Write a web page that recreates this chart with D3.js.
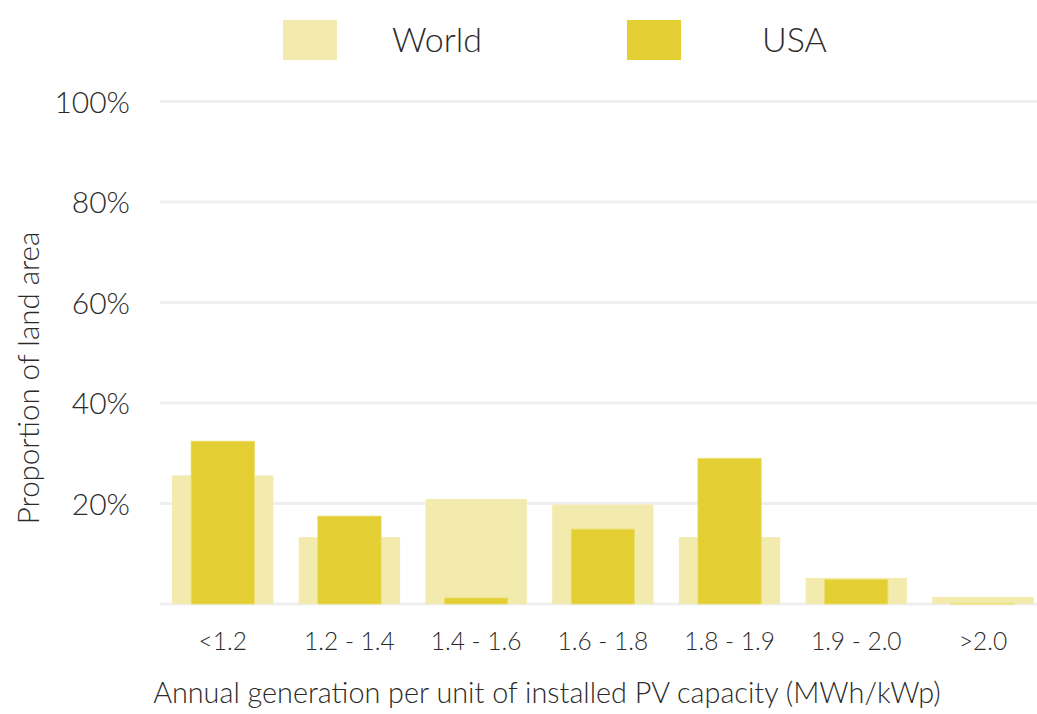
<!DOCTYPE html>
<html><head><meta charset="utf-8">
<script src="https://cdn.jsdelivr.net/npm/d3@7"></script>
<style>
body{margin:0;background:#fff;}
svg{display:block;}
text{font-family:Lato,"Open Sans",sans-serif;font-weight:300;fill:#2b2b2b;}
</style></head>
<body><svg id="c" width="1037" height="714"></svg>
<script>
const categories = ["<1.2","1.2 - 1.4","1.4 - 1.6","1.6 - 1.8","1.8 - 1.9","1.9 - 2.0",">2.0"];
const seriesNames = ["World","USA"];
const worldValues = [25.6, 13.3, 20.9, 19.8, 13.3, 5.2, 1.4];
const usaValues = [32.4, 17.5, 1.2, 14.9, 29.0, 4.9, 0.15];
const yTicks = [0, 20, 40, 60, 80, 100];
const colors = {World:"#F3EBAE", USA:"#E3CF33"};

const svg = d3.select("#c");
const x = d3.scaleBand().domain(categories).range([159.4, 1046.3]).padding(0);
const y = d3.scaleLinear().domain([0,100]).range([604,101.5]);

// gridlines
svg.append("g").selectAll("line").data(yTicks).join("line")
  .attr("x1",160).attr("x2",1046)
  .attr("y1",d=>y(d)).attr("y2",d=>y(d))
  .attr("stroke","#EFEFEF").attr("stroke-width",3);

// y tick labels
svg.append("g").selectAll("text").data(yTicks.filter(d=>d>0)).join("text")
  .attr("x",130).attr("y",d=>y(d)+11)
  .attr("text-anchor","end").attr("font-size",30)
  .text(d=>d+"%");

const step = x.bandwidth();
// world bars
svg.append("g").selectAll("rect").data(categories).join("rect")
  .attr("x",(d)=>x(d)+step*0.1).attr("width",step*0.8)
  .attr("y",(d,i)=>y(worldValues[i])).attr("height",(d,i)=>y(0)-y(worldValues[i]))
  .attr("fill",colors.World);
// usa bars
svg.append("g").selectAll("rect").data(categories).join("rect")
  .attr("x",(d)=>x(d)+step*0.25).attr("width",step*0.5)
  .attr("y",(d,i)=>y(usaValues[i])).attr("height",(d,i)=>y(0)-y(usaValues[i]))
  .attr("fill",colors.USA).attr("stroke","#EDDF6E").attr("stroke-width",0.8);

// x tick labels
svg.append("g").selectAll("text").data(categories).join("text")
  .attr("x",d=>x(d)+step/2).attr("y",650)
  .attr("text-anchor","middle").attr("font-size",24.5)
  .text(d=>d);

// axis titles
svg.append("text").attr("x",547).attr("y",703).attr("text-anchor","middle")
  .attr("font-size",28.8).text("Annual generation per unit of installed PV capacity (MWh/kWp)");
svg.append("text").attr("transform","translate(39,378) rotate(-90)").attr("text-anchor","middle")
  .attr("font-size",29.5).text("Proportion of land area");

// legend
const legendX = [283, 627];
const legendTextX = [392, 762];
const lg = svg.append("g");
seriesNames.forEach((s,i)=>{
  lg.append("rect").attr("x",legendX[i]).attr("y",20).attr("width",54).attr("height",40).attr("fill",colors[s]);
  lg.append("text").attr("x",legendTextX[i]).attr("y",52).attr("font-size",34).text(s);
});
</script></body></html>
